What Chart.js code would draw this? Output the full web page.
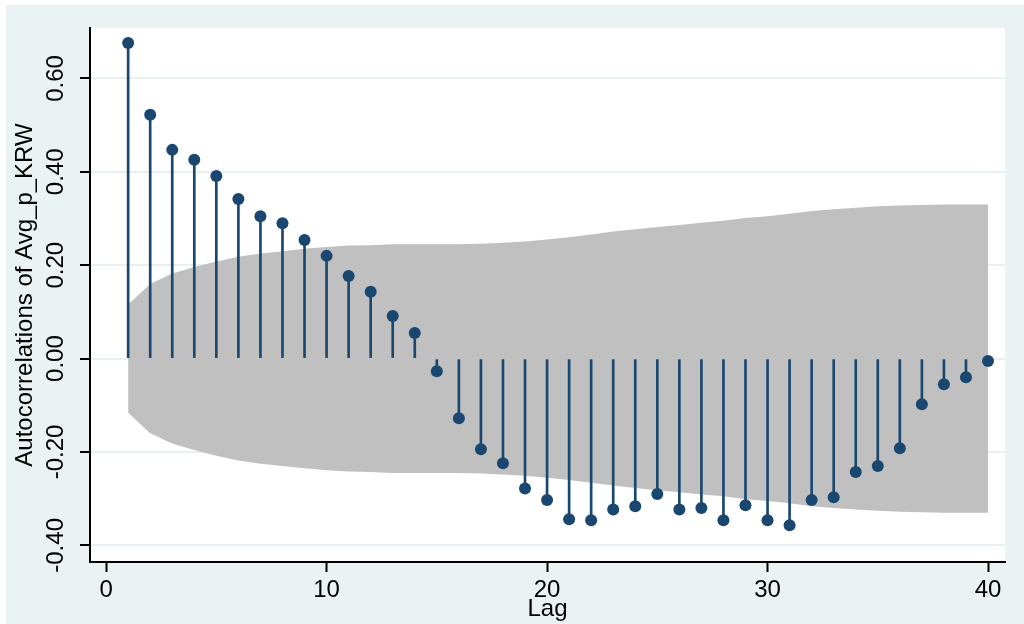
<!DOCTYPE html>
<html>
<head>
<meta charset="utf-8">
<title>Autocorrelations of Avg_p_KRW</title>
<script src="https://cdn.jsdelivr.net/npm/chart.js@4.4.1/dist/chart.umd.min.js"></script>
<style>
  html, body { margin: 0; padding: 0; background: #ffffff; }
  canvas { display: block; }
</style>
</head>
<body>
<canvas id="acf" width="1024" height="624"></canvas>
<script>
// Lags 1..40 and their sample autocorrelations
const lags = [1, 2, 3, 4, 5, 6, 7, 8, 9, 10,
              11, 12, 13, 14, 15, 16, 17, 18, 19, 20,
              21, 22, 23, 24, 25, 26, 27, 28, 29, 30,
              31, 32, 33, 34, 35, 36, 37, 38, 39, 40];

const acf = [0.676, 0.522, 0.447, 0.426, 0.391, 0.342, 0.305, 0.290, 0.254, 0.220,
             0.177, 0.143, 0.091, 0.055, -0.027, -0.128, -0.194, -0.224, -0.278, -0.303,
             -0.344, -0.346, -0.323, -0.316, -0.290, -0.323, -0.320, -0.346, -0.314, -0.346,
             -0.357, -0.303, -0.297, -0.243, -0.230, -0.192, -0.098, -0.055, -0.040, -0.005];

// Half-width of the 95% confidence band (Bartlett), per lag
const bandHalfWidth = [0.116, 0.160, 0.182, 0.196, 0.208, 0.218, 0.225, 0.230, 0.235, 0.239,
                       0.242, 0.243, 0.245, 0.245, 0.245, 0.245, 0.246, 0.248, 0.251, 0.255,
                       0.260, 0.266, 0.272, 0.277, 0.282, 0.286, 0.291, 0.295, 0.301, 0.305,
                       0.310, 0.316, 0.320, 0.323, 0.326, 0.328, 0.329, 0.330, 0.330, 0.330];

const xTickValues = [0, 10, 20, 30, 40];
const yTickValues = [-0.4, -0.2, 0, 0.2, 0.4, 0.6];
const yTickLabels = ['-0.40', '-0.20', '0.00', '0.20', '0.40', '0.60'];

const xTitle = 'Lag';
const yTitle = 'Autocorrelations of Avg_p_KRW';

const NAVY = '#1a476f';
const BAND = '#c0c0c0';
const REGION = '#eaf2f3';
const FONT = '"Liberation Sans", Arial, Helvetica, sans-serif';

const upperPts = lags.map((l, i) => ({ x: l, y: bandHalfWidth[i] }));
const lowerPts = lags.map((l, i) => ({ x: l, y: -bandHalfWidth[i] }));
const acfPts = lags.map((l, i) => ({ x: l, y: acf[i] }));

// Graph region tint behind the white plot region
const backdrop = {
  id: 'backdrop',
  beforeDraw(chart) {
    const { ctx, width, height, chartArea: a } = chart;
    ctx.save();
    ctx.fillStyle = '#ffffff';
    ctx.fillRect(0, 0, width, height);
    ctx.fillStyle = REGION;
    ctx.fillRect(6, 5, width - 6, height - 5);
    ctx.fillStyle = '#ffffff';
    ctx.fillRect(a.left, a.top, a.right - a.left, a.bottom - a.top);
    ctx.restore();
  }
};

new Chart(document.getElementById('acf'), {
  type: 'bar',
  data: {
    datasets: [
      {
        type: 'scatter',
        label: 'acf markers',
        data: acfPts,
        showLine: false,
        pointRadius: 6,
        pointHoverRadius: 6,
        pointBackgroundColor: NAVY,
        pointBorderWidth: 0,
        order: 0
      },
      {
        type: 'bar',
        label: 'acf spikes',
        data: acfPts,
        backgroundColor: NAVY,
        borderWidth: 0,
        barThickness: 2,
        grouped: false,
        order: 1
      },
      {
        type: 'line',
        label: 'band upper',
        data: upperPts,
        borderWidth: 0,
        borderColor: BAND,
        backgroundColor: BAND,
        pointRadius: 0,
        tension: 0,
        fill: '+1',
        order: 2
      },
      {
        type: 'line',
        label: 'band lower',
        data: lowerPts,
        borderWidth: 0,
        borderColor: BAND,
        backgroundColor: BAND,
        pointRadius: 0,
        tension: 0,
        fill: false,
        order: 3
      }
    ]
  },
  options: {
    responsive: false,
    devicePixelRatio: 1,
    animation: false,
    layout: { padding: { top: 28, right: 19, bottom: 0, left: 0 } },
    plugins: {
      legend: { display: false },
      tooltip: { enabled: false }
    },
    scales: {
      x: {
        type: 'linear',
        min: -0.73,
        max: 40.77,
        offset: false,
        afterBuildTicks(scale) { scale.ticks = xTickValues.map(v => ({ value: v })); },
        afterFit(scale) { scale.height = 62; },
        grid: {
          offset: false,
          drawOnChartArea: false,
          drawTicks: true,
          tickLength: 10,
          tickColor: '#000000',
          tickWidth: 2
        },
        border: { display: true, color: '#000000', width: 2 },
        ticks: {
          autoSkip: false,
          maxRotation: 0,
          minRotation: 0,
          padding: 4,
          color: '#000000',
          font: { family: FONT, size: 24 },
          callback: (v) => String(v)
        },
        title: {
          display: true,
          text: xTitle,
          color: '#000000',
          font: { family: FONT, size: 24 },
          padding: { top: 0, bottom: 0 }
        }
      },
      y: {
        type: 'linear',
        min: -0.4356,
        max: 0.708,
        afterBuildTicks(scale) { scale.ticks = yTickValues.map(v => ({ value: v })); },
        afterFit(scale) { scale.width = 90; },
        grid: {
          color: '#e8f0f2',
          lineWidth: 2,
          drawTicks: true,
          tickLength: 10,
          tickColor: '#000000',
          tickWidth: 2
        },
        border: { display: true, color: '#000000', width: 2 },
        ticks: {
          autoSkip: false,
          minRotation: 90,
          maxRotation: 90,
          crossAlign: 'center',
          padding: -4,
          color: '#000000',
          font: { family: FONT, size: 24 },
          callback: (v, i) => yTickLabels[i]
        },
        title: {
          display: true,
          text: yTitle,
          color: '#000000',
          font: { family: FONT, size: 24 },
          padding: { top: 11, bottom: 0 }
        }
      }
    }
  },
  plugins: [backdrop]
});
</script>
</body>
</html>
